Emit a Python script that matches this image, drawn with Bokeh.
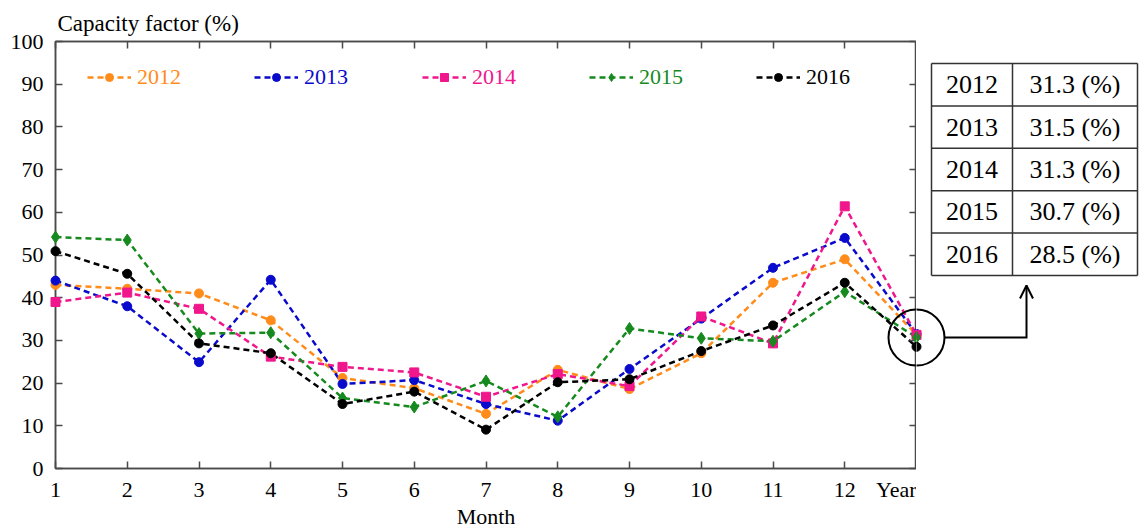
from bokeh.plotting import figure
from bokeh.models import (Range1d, LinearAxis, FixedTicker, Legend, LegendItem,
                          Arrow, OpenHead)
from bokeh.layouts import row
from bokeh.embed import file_html
from bokeh.resources import INLINE
from bokeh.core.properties import value

# ---------------- data ----------------
months = [1, 2, 3, 4, 5, 6, 7, 8, 9, 10, 11, 12, 13]
month_labels = ["1", "2", "3", "4", "5", "6", "7", "8", "9", "10", "11", "12", "Year"]
y_ticks = [0, 10, 20, 30, 40, 50, 60, 70, 80, 90, 100]
years = ["2012", "2013", "2014", "2015", "2016"]
annual = [31.3, 31.5, 31.3, 30.7, 28.5]
cf_2012 = [43.0, 42.1, 41.0, 34.7, 21.2, 18.8, 12.8, 23.1, 18.6, 27.0, 43.5, 49.0]
cf_2013 = [44.0, 38.0, 24.9, 44.2, 19.8, 20.7, 15.1, 11.2, 23.3, 35.1, 47.0, 54.0]
cf_2014 = [39.0, 41.2, 37.4, 26.2, 23.8, 22.5, 16.8, 22.1, 19.3, 35.6, 29.3, 61.4]
cf_2015 = [54.2, 53.5, 31.6, 31.8, 16.5, 14.4, 20.5, 12.1, 32.8, 30.5, 29.8, 41.4]
cf_2016 = [50.9, 45.6, 29.3, 27.0, 15.1, 18.0, 9.1, 20.2, 20.9, 27.5, 33.5, 43.5]
monthly = [cf_2012, cf_2013, cf_2014, cf_2015, cf_2016]

# ---------------- style ----------------
FONT = "Liberation Serif"
AX = "#4a4a4a"
colors = ["#FF8C1A", "#0A0ACD", "#F0168C", "#168A1E", "#000000"]
markers = ["circle", "circle", "square", "diamond", "circle"]
msizes = [9, 9, 9, 12, 9]
W1, W2, H = 916, 226, 531
BL, BT, BB = 55, 41, 63
frame_h = H - BT - BB
ppu_x = (W1 - BL) / 12.0
ppu_y = frame_h / 100.0

p = figure(width=W1, height=H, x_range=Range1d(1, 13), y_range=Range1d(0, 100),
           output_backend="svg", toolbar_location=None,
           min_border_left=BL, min_border_right=0, min_border_top=BT, min_border_bottom=BB)
p.xgrid.visible = False
p.ygrid.visible = False
p.outline_line_color = AX
p.outline_line_width = 1.5
p.background_fill_color = "white"
p.border_fill_color = "white"

p.title.text = "Capacity factor (%)"
p.title.text_font = FONT
p.title.text_font_size = "23px"
p.title.text_font_style = "normal"
p.title.text_color = "black"
p.title.align = "left"
p.title.offset = 2
p.title.standoff = 11

xa = p.xaxis[0]
ya = p.yaxis[0]
xa.ticker = FixedTicker(ticks=months)
xa.major_label_overrides = {m: lab for m, lab in zip(months, month_labels)}
ya.ticker = FixedTicker(ticks=y_ticks)
xa.axis_label = "Month"
xa.axis_label_text_font = FONT
xa.axis_label_text_font_size = "22px"
xa.axis_label_text_font_style = "normal"
xa.axis_label_text_color = "black"
xa.axis_label_text_line_height = 1.0
xa.major_label_text_line_height = 1.0
xa.axis_label_standoff = -1
xa.major_label_standoff = 8
ya.major_label_standoff = 12

top = LinearAxis(ticker=FixedTicker(ticks=months))
right = LinearAxis(ticker=FixedTicker(ticks=y_ticks))
for ax in (xa, ya, top, right):
    ax.axis_line_color = AX
    ax.axis_line_width = 1.5
    ax.major_tick_line_color = AX
    ax.major_tick_line_width = 1.5
    ax.major_tick_in = 7
    ax.major_tick_out = 0
    ax.minor_tick_line_color = None
    ax.major_label_text_font = FONT
    ax.major_label_text_font_size = "22px"
    ax.major_label_text_color = "black"
top.major_label_overrides = {m: "" for m in months}
right.major_label_overrides = {t: "" for t in y_ticks}
for ax in (top, right):
    ax.major_label_text_font_size = "2px"
    ax.major_label_standoff = 0
p.add_layout(top, "above")
p.add_layout(right, "right")

leg_x = [32, 199, 367, 534, 701]
leg_y = frame_h - 36 - 13
for i in range(5):
    ys = monthly[i] + [annual[i]]
    lr = p.line(months, ys, line_color=colors[i], line_width=2.5, line_dash="6 4")
    sr = p.scatter(months, ys, marker=markers[i], size=msizes[i],
                   fill_color=colors[i], line_color=colors[i], level="overlay")
    leg = Legend(items=[LegendItem(label=years[i], renderers=[lr, sr])],
                 location=(leg_x[i], leg_y), orientation="horizontal",
                 padding=0, margin=0, spacing=0, glyph_width=44, glyph_height=20,
                 label_standoff=6, label_text_font=FONT, label_text_font_size="22px",
                 label_text_color=colors[i], border_line_color=None,
                 background_fill_alpha=0)
    p.add_layout(leg)

ring_y = sum(annual) / len(annual)
ring_r = 28
p.circle(x=[13], y=[ring_y], radius=ring_r, radius_units="screen",
         fill_color=None, line_color="black", line_width=2)

# ---------------- right panel: table + arrow ----------------
p2 = figure(width=W2, height=H, x_range=Range1d(13, 13 + W2 / ppu_x), y_range=Range1d(0, 100),
            output_backend="svg", toolbar_location=None,
            x_axis_location=None, y_axis_location=None,
            min_border_left=0, min_border_right=0, min_border_top=BT, min_border_bottom=BB)
p2.grid.visible = False
p2.outline_line_color = None
p2.background_fill_color = "white"
p2.border_fill_color = "white"


def xd(px):
    return 13 + px / ppu_x


def yd(px):
    return 100 - px / ppu_y


for i in range(5):
    p2.scatter([13], [annual[i]], marker=markers[i], size=msizes[i],
               fill_color=colors[i], line_color=colors[i])
p2.circle(x=[13], y=[ring_y], radius=ring_r, radius_units="screen",
          fill_color=None, line_color="black", line_width=2)

t_left, t_mid, t_right = 15, 96, 221
t_top, row_h = 22, 42.4
hy = [yd(t_top + k * row_h) for k in range(6)]
p2.segment(x0=[xd(t_left)] * 6, y0=hy, x1=[xd(t_right)] * 6, y1=hy,
           line_color="#333333", line_width=1.5)
vx = [xd(t_left), xd(t_mid), xd(t_right)]
p2.segment(x0=vx, y0=[hy[0]] * 3, x1=vx, y1=[hy[-1]] * 3,
           line_color="#333333", line_width=1.5)
cy = [yd(t_top + (k + 0.5) * row_h) for k in range(5)]
p2.text(x=[xd((t_left + t_mid) / 2)] * 5, y=cy, text=years,
        text_font=value(FONT), text_font_size=value("26px"),
        text_align="center", text_baseline="middle", text_color="black")
p2.text(x=[xd((t_mid + t_right) / 2)] * 5, y=cy, text=[f"{v:.1f} (%)" for v in annual],
        text_font=value(FONT), text_font_size=value("26px"),
        text_align="center", text_baseline="middle", text_color="black")

arrow_x = xd(110)
tip_y = yd(244)
p2.line(x=[xd(ring_r), arrow_x, arrow_x], y=[ring_y, ring_y, tip_y],
        line_color="black", line_width=2, line_join="miter")
p2.add_layout(Arrow(end=OpenHead(size=13, line_width=2, line_color="black"),
                    x_start=arrow_x, y_start=tip_y - 3, x_end=arrow_x, y_end=tip_y,
                    line_alpha=0))

layout = row(p, p2)
open("out.html", "w").write(file_html(layout, INLINE))
